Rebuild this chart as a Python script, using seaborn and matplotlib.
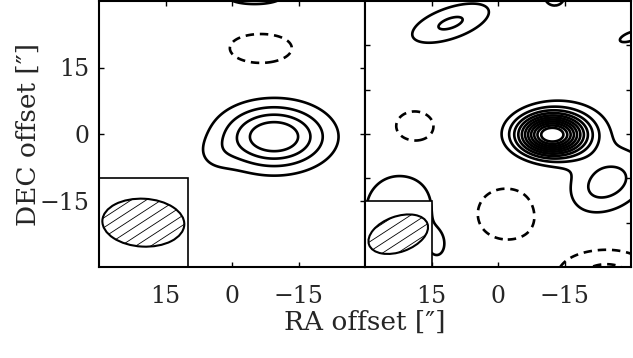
import numpy as np
import matplotlib
matplotlib.use("Agg")
import matplotlib.pyplot as plt
from matplotlib.patches import Rectangle, Ellipse
import seaborn as sns

# contour levels, in units of the map noise (negative ones dashed)
levels_neg = [-2, -1]
levels_pos = [1, 2, 3, 4, 5, 6, 7, 8, 9, 10, 11]

# emission components:
# RA / DEC offset ["], peak, widths along / across ["], angle on the sky plot [deg]
left_ra = [-9.5, 4.0, -5.2, -6.5]
left_dec = [-0.6, -5.0, 31.0, 19.4]
left_peak = [5.0, 0.6, 1.18, -1.5]
left_sx = [8.1, 3.5, 11.0, 7.8]
left_sy = [4.9, 3.0, 3.5, 3.8]
left_ang = [0, 0, 0, 0]

right_ra = [-12.1, -17.0, -24.5, 10.7, -12.8, -30.0, 22.0, 13.5, 18.8, -2.0, -24.5]
right_dec = [-0.2, 1.5, -11.2, 25.0, 31.0, 22.0, -17.0, -25.0, 1.6, -18.0, -33.0]
right_peak = [11.6, 1.0, 2.45, 2.16, 1.25, 1.15, 2.0, 1.1, -1.5, -1.5, -2.6]
right_sx = [5.0, 8.0, 7.0, 7.3, 3.2, 5.0, 6.5, 2.0, 4.8, 7.8, 8.0]
right_sy = [3.1, 5.5, 4.5, 2.8, 3.0, 1.8, 6.5, 3.0, 3.9, 6.4, 5.0]
right_ang = [0, 0, 25, 19, 0, 20, 0, 0, 0, 0, 0]

# beam (RA, DEC, major, minor, angle) and size of the corner box ["]
left_beam = [20.0, -20.0, 18.5, 10.8, -3]
left_box = 20.0
right_beam = [22.5, -22.6, 14.0, 8.0, 20]
right_box = 15.0

ra_ticks = [15, 0, -15]
left_dec_ticks = [15, 0, -15]
right_dec_ticks = [20, 10, 0, -10, -20]

grid = np.linspace(-36, 36, 361)
RA, DEC = np.meshgrid(grid, grid)


def build_map(ra, dec, peak, sx, sy, ang):
    img = np.zeros_like(RA)
    for r0, d0, p, a, b, t in zip(ra, dec, peak, sx, sy, ang):
        dx = -(RA - r0)  # RA grows to the left
        dy = DEC - d0
        th = np.radians(t)
        u = dx * np.cos(th) + dy * np.sin(th)
        v = -dx * np.sin(th) + dy * np.cos(th)
        img += p * np.exp(-0.5 * ((u / a) ** 2 + (v / b) ** 2))
    return img


def draw_beam(ax, beam, box):
    ax.add_patch(Rectangle((30 - box, -30), box, box, facecolor="white",
                           edgecolor="black", lw=1.2, zorder=3, clip_on=False))
    r0, d0, bmaj, bmin, ang = beam
    ell = Ellipse((r0, d0), bmaj, bmin, angle=-ang, facecolor="none",
                  edgecolor="black", lw=1.5, zorder=5)
    ax.add_patch(ell)
    # hatch lines inside the beam
    slope = np.tan(np.radians(33))
    for c in np.arange(-14, 15, 3.4):
        u = np.array([-12.0, 12.0])
        v = slope * (u - c)
        ln, = ax.plot(r0 - u, d0 + v, color="black", lw=0.6, zorder=4)
        ln.set_clip_path(ell)


sns.set_theme(style="ticks")
plt.rcParams["font.family"] = ["DejaVu Serif"]
plt.rcParams["axes.unicode_minus"] = True

fig = plt.figure(figsize=(6.33, 3.58), dpi=100)
ax1 = fig.add_axes([99 / 633, 91 / 358, 266 / 633, 266 / 358])
ax2 = fig.add_axes([365 / 633, 91 / 358, 266 / 633, 266 / 358])

panels = [
    (ax1, build_map(left_ra, left_dec, left_peak, left_sx, left_sy, left_ang),
     left_beam, left_box, left_dec_ticks),
    (ax2, build_map(right_ra, right_dec, right_peak, right_sx, right_sy, right_ang),
     right_beam, right_box, right_dec_ticks),
]

for ax, img, beam, box, yt in panels:
    ax.contour(RA, DEC, img, levels=levels_pos, colors="black",
               linewidths=1.9, linestyles="solid", zorder=2)
    ax.contour(RA, DEC, img, levels=levels_neg, colors="black",
               linewidths=1.9, linestyles=[(0, (3.2, 2.2))], zorder=2)
    draw_beam(ax, beam, box)
    ax.set_xlim(30, -30)
    ax.set_ylim(-30, 30)
    ax.set_xticks(ra_ticks)
    ax.set_yticks(yt)
    ax.tick_params(direction="in", top=True, right=True, length=3.8,
                   width=1.0, color="black", labelsize=17)
    ax.tick_params(axis="x", pad=13)
    ax.tick_params(axis="y", pad=7)
    for s in ax.spines.values():
        s.set_linewidth(1.5)
        s.set_color("black")
        s.set_zorder(6)

ax2.set_yticklabels([])

fig.text(365 / 633, 1 - 322 / 358, "RA offset [\u2033]", ha="center",
         va="center", fontsize=19)
fig.text(28 / 633, 1 - 134 / 358, "DEC offset [\u2033]", ha="center",
         va="center", rotation=90, fontsize=19)

fig.savefig("out.png", dpi=100, facecolor="white")
